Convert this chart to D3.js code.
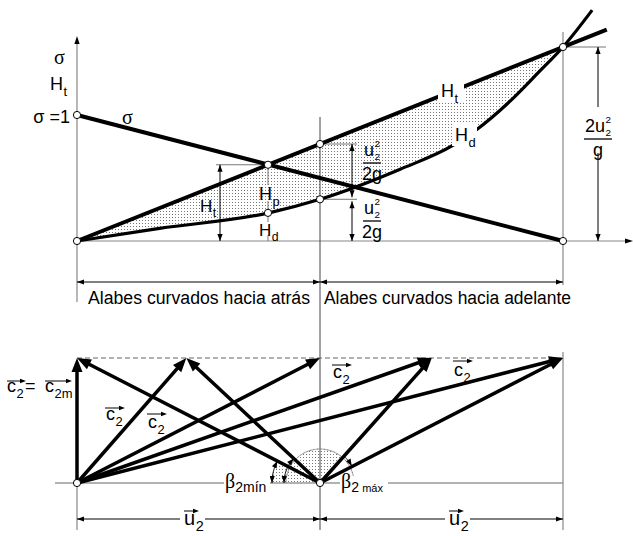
<!DOCTYPE html>
<html>
<head>
<meta charset="utf-8">
<script src="https://cdn.jsdelivr.net/npm/d3@7"></script>
<style>
  body { margin: 0; background: #fff; }
  text { font-family: "Liberation Sans", Arial, sans-serif; fill: #000; }
  .greek { font-family: "Liberation Serif", "DejaVu Serif", serif; }
</style>
</head>
<body>
<svg id="chart" width="633" height="536"></svg>
<script>
// c2u / u2 on the horizontal axis, heads in units of u2^2 / g
const htX = [0, 2.18]
const htY = [0, 2.18]
const sigmaX = [0, 2]
const sigmaY = [1, 0]
const hdX = [0, 0.34, 0.79, 1, 1.33, 1.55, 1.64, 1.79, 1.9, 2, 2.12]
const hdY = [0, 0.13, 0.29, 0.43, 0.74, 0.99, 1.14, 1.46, 1.74, 2, 2.38]
const hpX = 0.786        // where sigma crosses Ht
const hpHd = 0.29
// velocity triangles: tips of c2 at c2u/u2, c2m = 1
const tipsX = [0, 0.45, 1, 1.46, 2]
const regionLabels = ['Alabes curvados hacia atrás', 'Alabes curvados hacia adelante']

const svg = d3.select('#chart')

const x = d3.scaleLinear().domain([0, 2]).range([77, 563])
const yH = d3.scaleLinear().domain([0, 2]).range([241, 47])
const yS = d3.scaleLinear().domain([0, 1]).range([241, 115])
const yC = d3.scaleLinear().domain([0, 1]).range([483, 358])

// stipple pattern for the shaded regions
const pat = svg.append('defs').append('pattern')
  .attr('id', 'dots').attr('width', 3).attr('height', 3)
  .attr('patternUnits', 'userSpaceOnUse')
pat.append('rect').attr('x', 1).attr('y', 1).attr('width', 1).attr('height', 1).attr('fill', '#777')

function line (g, x1, y1, x2, y2, color = '#000', w = 1, dash = null) {
  return g.append('line')
    .attr('x1', x1).attr('y1', y1).attr('x2', x2).attr('y2', y2)
    .attr('stroke', color).attr('stroke-width', w)
    .attr('stroke-dasharray', dash)
}

function head (g, x1, y1, x2, y2, len, half, color = '#000') {
  const dx = x2 - x1
  const dy = y2 - y1
  const d = Math.hypot(dx, dy)
  const ux = dx / d
  const uy = dy / d
  const bx = x2 - ux * len
  const by = y2 - uy * len
  g.append('polygon')
    .attr('points', [[x2, y2], [bx - uy * half, by + ux * half], [bx + uy * half, by - ux * half]].join(' '))
    .attr('fill', color)
}

// thick arrow, shaft stops under the head
function arrow (g, x1, y1, x2, y2, w = 3.5, len = 14, half = 5.5) {
  const d = Math.hypot(x2 - x1, y2 - y1)
  const k = (d - len + 2) / d
  line(g, x1, y1, x1 + (x2 - x1) * k, y1 + (y2 - y1) * k, '#000', w)
  head(g, x1, y1, x2, y2, len, half)
}

// thin dimension line with heads at both ends
function dim (g, x1, y1, x2, y2) {
  line(g, x1, y1, x2, y2, '#000', 1)
  head(g, x1, y1, x2, y2, 7, 2.6)
  head(g, x2, y2, x1, y1, 7, 2.6)
}

function whiteBox (g, x0, y0, w, h) {
  g.append('rect').attr('x', x0).attr('y', y0).attr('width', w).attr('height', h).attr('fill', '#fff')
}

// symbol with optional subscript and superscript
function sym (g, x0, y0, base, sub, sup, fs = 17, cls = null) {
  const t = g.append('text').attr('x', x0).attr('y', y0).attr('font-size', fs).attr('class', cls).text(base)
  const w = t.node().getComputedTextLength()
  const sx = x0 + w + 0.5
  let end = x0 + w
  if (sub && sup) {
    // stacked scripts, kept small so they do not collide
    const a = g.append('text').attr('font-size', fs * 0.55).attr('x', sx).attr('y', y0 - fs * 0.5).text(sup)
    g.append('text').attr('font-size', fs * 0.55).attr('x', sx).attr('y', y0 + fs * 0.2).text(sub)
    end = sx + a.node().getComputedTextLength()
  } else if (sub) {
    const s = g.append('text').attr('x', sx).attr('y', y0 + fs * 0.32)
      .attr('font-size', fs * 0.72).text(sub)
    end = sx + s.node().getComputedTextLength()
  }
  return end
}

// small arrow drawn over a vector name
function overArrow (g, x1, x2, y0) {
  line(g, x1, y0, x2 - 3, y0, '#000', 1)
  head(g, x1, y0, x2, y0, 6, 2.2)
}

function arcArrow (g, cx, cy, r, a0, a1, heads) {
  const rad = Math.PI / 180
  const pts = d3.range(0, 1.0001, 0.05).map(t => {
    const a = (a0 + (a1 - a0) * t) * rad
    return [cx + r * Math.cos(a), cy - r * Math.sin(a)]
  })
  g.append('path').attr('d', d3.line()(pts)).attr('fill', 'none').attr('stroke', '#000').attr('stroke-width', 1)
  const n = pts.length
  if (heads.includes('end')) head(g, pts[n - 3][0], pts[n - 3][1], pts[n - 1][0], pts[n - 1][1], 7, 2.6)
  if (heads.includes('start')) head(g, pts[2][0], pts[2][1], pts[0][0], pts[0][1], 7, 2.6)
}

const upper = svg.append('g')

// shaded band between Ht and Hd
const band = hdX.map((v, i) => [v, hdY[i]]).filter(d => d[0] <= 2)
upper.append('path')
  .attr('d', d3.area().x(d => x(d[0])).y0(d => yH(d[1])).y1(d => yH(d[0])).curve(d3.curveMonotoneX)(band))
  .attr('fill', 'url(#dots)')

// axes and guide lines
line(upper, x(0), 302, x(0), 42, '#888', 1.2)
head(upper, x(0), 60, x(0), 36, 8, 2.6)
line(upper, x(0), yH(0), 628, yH(0), '#888', 1.2)
head(upper, 600, yH(0), 633, yH(0), 8, 2.6)
line(upper, x(1), 117, x(1), 530, '#444', 1)
line(upper, x(2), 32, x(2), 285, '#888', 1.2)

// Ht dimension at the sigma crossing
line(upper, 216, yH(hpX), x(hpX), yH(hpX), '#777', 1)
dim(upper, 220, yH(hpX), 220, yH(0))
line(upper, x(hpX), yH(hpX), x(hpX), 185, '#777', 1)
line(upper, x(hpX), 201, x(hpX), yH(hpHd), '#777', 1)
line(upper, x(hpX), yH(hpHd), x(hpX), 222, '#777', 1)
line(upper, x(hpX), 235, x(hpX), yH(0), '#777', 1)

// u2^2/2g dimensions at c2u = u2
line(upper, x(1), yH(1), 357, yH(1), '#777', 1)
line(upper, x(1), yH(0.43), 357, yH(0.43), '#777', 1)
dim(upper, 352, yH(1), 352, yH(0.43) - 2)
dim(upper, 352, yH(0.43) + 2, 352, yH(0))

// 2u2^2/g dimension
line(upper, x(2), yH(2), 606, yH(2), '#777', 1)
dim(upper, 598, yH(2), 598, yH(0))

// region dimension
dim(upper, x(0), 282, x(1), 282)
dim(upper, x(1), 282, x(2), 282)

// curves
upper.append('path')
  .attr('d', d3.line().x(d => x(d[0])).y(d => yS(d[1]))(sigmaX.map((v, i) => [v, sigmaY[i]])))
  .attr('stroke', '#000').attr('stroke-width', 4).attr('fill', 'none')
upper.append('path')
  .attr('d', d3.line().x(d => x(d[0])).y(d => yH(d[1]))(htX.map((v, i) => [v, htY[i]])))
  .attr('stroke', '#000').attr('stroke-width', 4).attr('fill', 'none')
upper.append('path')
  .attr('d', d3.line().x(d => x(d[0])).y(d => yH(d[1])).curve(d3.curveMonotoneX)(hdX.map((v, i) => [v, hdY[i]])))
  .attr('stroke', '#000').attr('stroke-width', 3.2).attr('fill', 'none')

// labels on the upper chart
whiteBox(upper, 438, 80, 26, 22)
sym(upper, 441, 97, 'H', 't', null, 18)
whiteBox(upper, 452, 124, 25, 22)
sym(upper, 455, 141, 'H', 'd', null, 18)

upper.append('text').attr('class', 'greek').attr('x', 54).attr('y', 64).attr('font-size', 20).text('σ')
sym(upper, 50, 90, 'H', 't', null, 18)
upper.append('text').attr('x', 70).attr('y', 123).attr('font-size', 18).attr('text-anchor', 'end')
  .text('σ =1')
upper.append('text').attr('class', 'greek').attr('x', 122).attr('y', 124).attr('font-size', 20).text('σ')
sym(upper, 200, 212, 'H', 't', null, 17)
sym(upper, 259, 200, 'H', 'p', null, 18)
sym(upper, 259, 236, 'H', 'd', null, 17)

// fractions
function frac (g, cx, yBar, num, den, fs = 18) {
  const ng = g.append('g')
  const w = sym(ng, 0, 0, num[0], num[1], num[2], fs)
  ng.attr('transform', `translate(${cx - w / 2},${yBar - 7})`)
  line(g, cx - w / 2 - 1, yBar, cx + w / 2 + 1, yBar, '#000', 1.3)
  g.append('text').attr('x', cx).attr('y', yBar + 16.5).attr('font-size', fs).attr('text-anchor', 'middle').text(den)
}
frac(upper, 372, 163, ['u', '2', '2'], '2g')
frac(upper, 372, 221, ['u', '2', '2'], '2g')
whiteBox(upper, 580, 107, 38, 46)
frac(upper, 598, 139, ['2u', '2', '2'], 'g')

// region labels
upper.append('text').attr('x', 88).attr('y', 304).attr('font-size', 18)
  .attr('textLength', 222).attr('lengthAdjust', 'spacingAndGlyphs').text(regionLabels[0])
upper.append('text').attr('x', 324).attr('y', 304).attr('font-size', 18)
  .attr('textLength', 247).attr('lengthAdjust', 'spacingAndGlyphs').text(regionLabels[1])

// circles on the upper chart
const topPts = [
  [x(0), yS(1)], [x(0), yH(0)], [x(hpX), yH(hpX)], [x(hpX), yH(hpHd)],
  [x(1), yH(1)], [x(1), yH(0.43)], [x(2), yH(2)], [x(2), yH(0)]
]

// ---- velocity triangles ----
const bot = svg.append('g')
const A = [x(0), yC(0)]
const B = [x(1), yC(0)]

line(bot, 55, yC(0), x(2), yC(0), '#999', 1.5)
line(bot, x(0), yC(1), x(2), yC(1), '#666', 1, '5,3')
line(bot, x(0), yC(0), x(0), 530, '#888', 1.2)
line(bot, x(2), 352, x(2), 530, '#888', 1.2)

// stippled angle sectors around B
const sector = (r, a0, a1) => d3.arc().innerRadius(0).outerRadius(r)
  .startAngle((90 - a1) * Math.PI / 180).endAngle((90 - a0) * Math.PI / 180)()
bot.append('path').attr('d', sector(34, 48, 153)).attr('transform', `translate(${B})`).attr('fill', 'url(#dots)')
bot.append('path').attr('d', sector(48, 153, 180)).attr('transform', `translate(${B})`).attr('fill', 'url(#dots)')
bot.append('path').attr('d', d3.arc().innerRadius(34).outerRadius(34).startAngle(-Math.PI / 2).endAngle(Math.PI / 2)())
  .attr('transform', `translate(${B})`).attr('fill', 'none').attr('stroke', '#777').attr('stroke-width', 0.8)
  .attr('stroke-dasharray', '2,1.5')

tipsX.forEach(t => {
  arrow(bot, A[0], A[1], x(t), yC(1))
  if (t !== 1) arrow(bot, B[0], B[1], x(t), yC(1))
})

const angFrom = t => Math.atan2(yC(0) - yC(1), x(t) - B[0]) * 180 / Math.PI
arcArrow(bot, B[0], B[1], 48, 180, angFrom(0), ['start', 'end'])
arcArrow(bot, B[0], B[1], 36, 180, angFrom(0.45), ['start', 'end'])
arcArrow(bot, B[0], B[1], 36, angFrom(1.46) - 2, angFrom(2) + 1, ['end'])

// bottom dimension lines
dim(bot, x(0), 519, x(1), 519)
dim(bot, x(1), 519, x(2), 519)
;[[184, 522], [449, 522]].forEach(([lx, ly]) => {
  whiteBox(bot, lx - 4, 506, 25, 28)
  sym(bot, lx, ly + 3, 'u', '2', null, 20)
  overArrow(bot, lx, lx + 15, 511)
})

// vector labels
sym(bot, 7, 392, 'c', '2', null, 18)
overArrow(bot, 7, 26, 381)
bot.append('text').attr('x', 25).attr('y', 392).attr('font-size', 18).text('=')
sym(bot, 45, 392, 'c', '2m', null, 18)
overArrow(bot, 45, 72, 381)
;[[106, 420, 408], [148, 428, 414], [333, 378, 365], [454, 376, 361]].forEach(([lx, ly, ay]) => {
  sym(bot, lx, ly, 'c', '2', null, 18)
  overArrow(bot, lx - 1, lx + 19, ay)
})

whiteBox(bot, 224, 476, 46, 16)
let e = sym(bot, 225, 488, 'β', null, null, 20, 'greek')
bot.append('text').attr('x', e).attr('y', 492).attr('font-size', 14).text('2mín')
whiteBox(bot, 340, 476, 48, 16)
e = sym(bot, 341, 488, 'β', null, null, 20, 'greek')
bot.append('text').attr('x', e).attr('y', 492).attr('font-size', 14).text('2')
bot.append('text').attr('x', e + 11).attr('y', 492).attr('font-size', 11).text('máx')

// circles last so they sit above the lines
const allPts = topPts.concat([A, B])
svg.append('g').selectAll('circle').data(allPts).join('circle')
  .attr('cx', d => d[0]).attr('cy', d => d[1]).attr('r', 3.6)
  .attr('fill', '#fff').attr('stroke', '#000').attr('stroke-width', 1)
</script>
</body>
</html>
